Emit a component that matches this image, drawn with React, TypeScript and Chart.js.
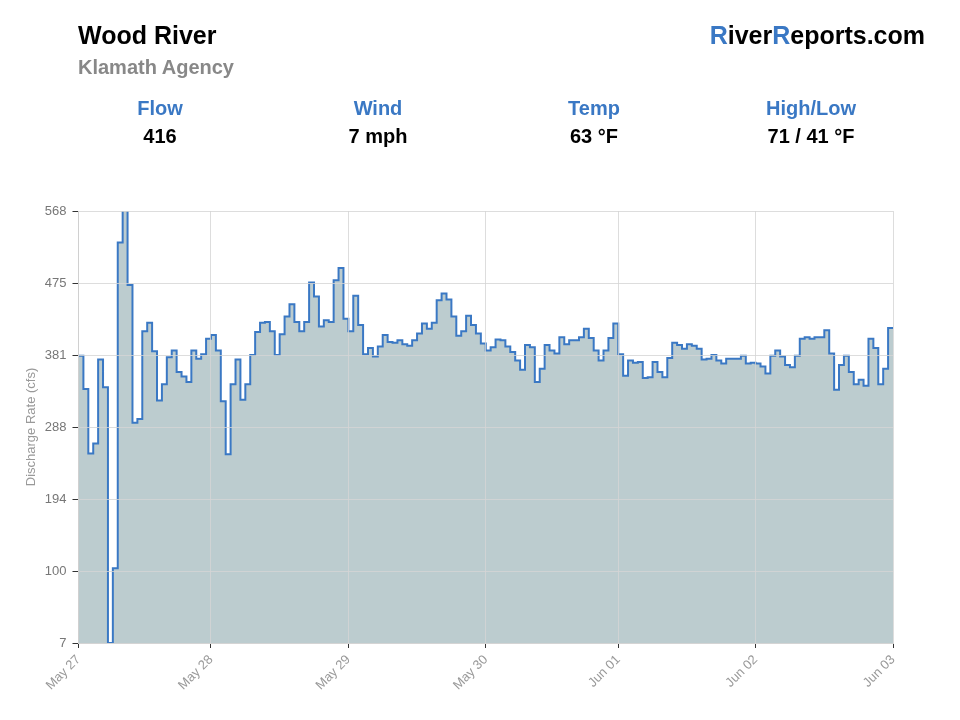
import React, { useEffect, useRef } from "react";
import { Chart, registerables } from "chart.js";

Chart.register(...registerables);

// Hourly discharge readings (cfs), one step each
const flowValues: number[] = [
  380, 337, 253, 266, 375, 339, 7, 104, 527, 600,
  472, 293, 298, 412, 423, 386, 322, 343, 378, 387,
  359, 353, 346, 387, 376, 382, 402, 407, 387, 321,
  252, 343, 375, 323, 343, 381, 411, 423, 424, 412,
  381, 408, 431, 447, 424, 412, 424, 475, 457, 418,
  426, 424, 478, 494, 428, 412, 458, 420, 382, 390,
  379, 392, 407, 398, 397, 400, 395, 393, 400, 409,
  422, 415, 423, 452, 461, 453, 431, 406, 412, 432,
  420, 409, 396, 387, 391, 401, 400, 392, 385, 374,
  362, 394, 391, 346, 363, 394, 387, 383, 404, 395,
  400, 400, 404, 415, 403, 387, 374, 387, 403, 422,
  382, 354, 374, 371, 372, 351, 352, 372, 359, 352,
  377, 397, 394, 389, 395, 393, 389, 375, 376, 381,
  374, 370, 376, 376, 376, 380, 370, 371, 370, 366,
  357, 380, 387, 379, 368, 365, 380, 402, 404, 402,
  404, 404, 413, 383, 336, 368, 380, 359, 343, 349,
  341, 402, 390, 343, 363, 416,
];

// x-axis date labels and the reading index at which each falls
const dateTickIndex: number[] = [0, 27, 55, 83, 110, 138, 166];
const dateTickLabels: string[] = ["May 27", "May 28", "May 29", "May 30", "Jun 01", "Jun 02", "Jun 03"];

// y-axis ticks
const yMin = 7;
const yMax = 568;
const yTickValues: number[] = [7, 100.5, 194, 287.5, 381, 474.5, 568];
const yTickLabels: string[] = ["7", "100", "194", "288", "381", "475", "568"];

// header stats
const statLabels: string[] = ["Flow", "Wind", "Temp", "High/Low"];
const statValues: string[] = ["416", "7 mph", "63 °F", "71 / 41 °F"];
const statCenters: number[] = [160, 378, 594, 811];

const FONT = '"Liberation Sans", Arial, Helvetica, sans-serif';
const BLUE = "#3a78c4";
const GRID = "rgba(212,212,212,0.8)";

export default function App() {
  const canvasRef = useRef<HTMLCanvasElement | null>(null);

  useEffect(() => {
    document.body.style.margin = "0";
    const canvas = canvasRef.current;
    if (!canvas) return;
    const n = flowValues.length;
    const points = flowValues.map((v, i) => ({ x: i, y: v }));
    points.push({ x: n, y: flowValues[n - 1] });

    const chart = new Chart(canvas, {
      type: "line",
      data: {
        datasets: [
          {
            data: points,
            stepped: true,
            borderColor: BLUE,
            borderWidth: 2,
            backgroundColor: "rgb(188,204,207)",
            fill: "start",
            pointRadius: 0,
            pointHoverRadius: 0,
          },
        ],
      },
      options: {
        animation: false,
        responsive: false,
        devicePixelRatio: 1,
        events: [],
        layout: { padding: { top: 211, left: 0, right: 67, bottom: 0 } },
        plugins: { legend: { display: false }, tooltip: { enabled: false } },
        scales: {
          x: {
            type: "linear",
            min: 0,
            max: n,
            afterBuildTicks: (scale: any) => {
              scale.ticks = dateTickIndex.map((v) => ({ value: v }));
            },
            afterFit: (scale: any) => {
              scale.height = 77;
            },
            ticks: {
              autoSkip: false,
              maxRotation: 45,
              minRotation: 45,
              padding: 4,
              color: "#999",
              font: { family: FONT, size: 13 },
              callback: (_v: any, i: number) => dateTickLabels[i],
            },
            grid: {
              color: GRID,
              z: 1,
              tickColor: "#333",
              tickLength: 5,
              tickWidth: 1,
            },
            border: { color: "#d0d0d0", width: 1, z: 1 },
          },
          y: {
            type: "linear",
            min: yMin,
            max: yMax,
            afterBuildTicks: (scale: any) => {
              scale.ticks = yTickValues.map((v) => ({ value: v }));
            },
            afterFit: (scale: any) => {
              scale.width = 78.5;
            },
            ticks: {
              padding: 6,
              color: "#777",
              font: { family: FONT, size: 13 },
              callback: (_v: any, i: number) => yTickLabels[i],
            },
            grid: {
              color: GRID,
              z: 1,
              tickColor: "#333",
              tickLength: 6,
              tickWidth: 1,
            },
            border: { color: "#d0d0d0", width: 1, z: 1 },
            title: {
              display: true,
              text: "Discharge Rate (cfs)",
              color: "#999",
              font: { family: FONT, size: 13 },
              padding: { top: 24, bottom: 0 },
            },
          },
        },
      },
    });
    return () => chart.destroy();
  }, []);

  const abs = (extra: React.CSSProperties): React.CSSProperties => ({
    position: "absolute",
    fontFamily: FONT,
    fontWeight: "bold",
    whiteSpace: "nowrap",
    ...extra,
  });

  return (
    <div style={{ position: "fixed", left: 0, top: 0, width: 960, height: 720, background: "#fff", overflow: "hidden" }}>
      <canvas ref={canvasRef} width={960} height={720} style={{ position: "absolute", left: 0, top: 0, width: 960, height: 720 }} />
      <div style={abs({ left: 78, top: 23, fontSize: 25, lineHeight: "25px", color: "#000" })}>Wood River</div>
      <div style={abs({ left: 78, top: 57, fontSize: 20, lineHeight: "20px", color: "#888" })}>Klamath Agency</div>
      <div style={abs({ right: 35, top: 23, fontSize: 25, lineHeight: "25px", color: "#000" })}>
        <span style={{ color: BLUE }}>R</span>iver<span style={{ color: BLUE }}>R</span>eports.com
      </div>
      {statLabels.map((label, i) => (
        <React.Fragment key={label}>
          <div style={abs({ left: statCenters[i] - 100, width: 200, textAlign: "center", top: 98, fontSize: 20, lineHeight: "20px", color: BLUE })}>
            {label}
          </div>
          <div style={abs({ left: statCenters[i] - 100, width: 200, textAlign: "center", top: 126, fontSize: 20, lineHeight: "20px", color: "#000" })}>
            {statValues[i]}
          </div>
        </React.Fragment>
      ))}
    </div>
  );
}
